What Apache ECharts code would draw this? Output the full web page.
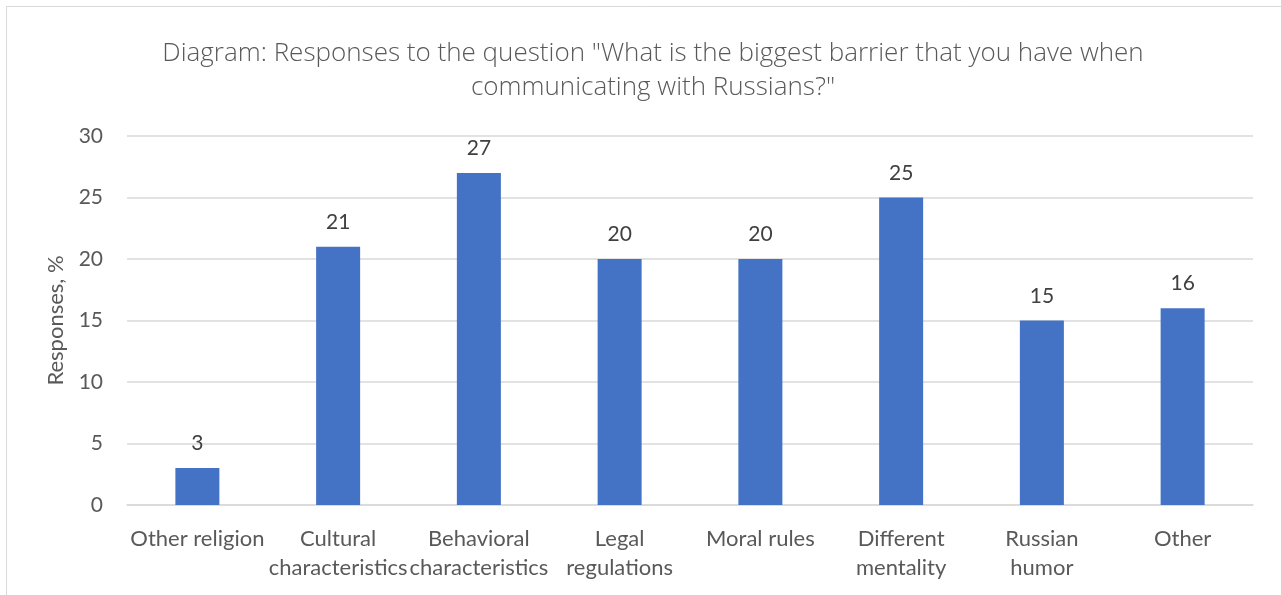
<!DOCTYPE html>
<html>
<head>
<meta charset="utf-8">
<script src="https://cdn.jsdelivr.net/npm/echarts@6/dist/echarts.min.js"></script>
<style>
  html, body { margin: 0; padding: 0; background: #fff; }
  #chart { width: 1281px; height: 595px; }
</style>
</head>
<body>
<div id="chart"></div>
<script>
// data
var categories = ['Other religion', 'Cultural\ncharacteristics', 'Behavioral\ncharacteristics', 'Legal\nregulations',
    'Moral rules', 'Different\nmentality', 'Russian\nhumor', 'Other'];
var responses = [3, 21, 27, 20, 20, 25, 15, 16];
var yTicks = [0, 5, 10, 15, 20, 25, 30];

var chart = echarts.init(document.getElementById('chart'));
var option = {
    backgroundColor: '#fff',
    title: {
        text: 'Diagram: Responses to the question "What is the biggest barrier that you have when\ncommunicating with Russians?"',
        left: 648,
        top: 32,
        textAlign: 'center',
        textStyle: {
            fontFamily: 'Open Sans',
            fontWeight: 300,
            fontSize: 26,
            color: '#595959',
            lineHeight: 34
        }
    },
    graphic: [{
        type: 'rect',
        shape: { x: 6.5, y: 6.5, width: 1290, height: 600 },
        style: { fill: 'none', stroke: '#d9d9d9', lineWidth: 1 },
        silent: true
    }],
    grid: { left: 127, right: 28, top: 136, bottom: 90 },
    xAxis: {
        type: 'category',
        data: categories,
        axisTick: { show: false },
        axisLine: { lineStyle: { color: '#d9d9d9', width: 1.5 } },
        axisLabel: {
            color: '#595959',
            fontFamily: 'Lato',
            fontSize: 22,
            lineHeight: 29,
            margin: 19,
            interval: 0
        }
    },
    yAxis: {
        type: 'value',
        min: yTicks[0],
        max: yTicks[yTicks.length - 1],
        interval: 5,
        name: 'Responses, %',
        nameLocation: 'middle',
        nameGap: 60,
        nameTextStyle: { color: '#595959', fontFamily: 'Lato', fontSize: 22 },
        axisLine: { show: false },
        axisTick: { show: false },
        splitLine: { lineStyle: { color: '#d9d9d9', width: 1.5 } },
        axisLabel: { color: '#595959', fontFamily: 'Lato', fontSize: 21, margin: 24 }
    },
    series: [{
        type: 'bar',
        data: responses,
        barWidth: 44,
        itemStyle: { color: '#4472c4' },
        label: {
            show: true,
            position: 'top',
            distance: 14,
            color: '#404040',
            fontFamily: 'Lato',
            fontSize: 21
        }
    }]
};
chart.setOption(option);
</script>
</body>
</html>
